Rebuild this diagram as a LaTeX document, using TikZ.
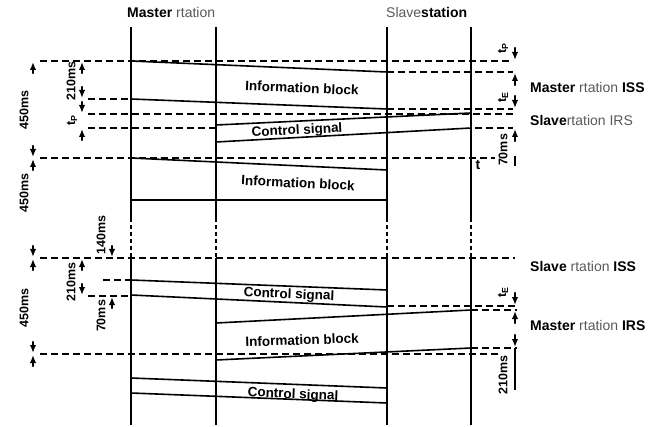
\documentclass[tikz,border=0pt]{standalone}
\usepackage{fontspec}
\setmainfont{Liberation Sans}
\usetikzlibrary{arrows.meta}
\begin{document}
\begin{tikzpicture}[x=1pt,y=-1pt,
  station/.style={line width=1.5pt},
  stdash/.style={line width=1.2pt,dash pattern=on 4pt off 3pt},
  blockedge/.style={line width=1.6pt,line join=miter},
  hdash/.style={line width=1.4pt,dash pattern=on 7pt off 4pt},
  dimarr/.style={line width=2.2pt,line cap=round,-{Latex[length=8pt,width=6.5pt]}},
  dimtxt/.style={font=\bfseries\fontsize{12.5}{13}\selectfont,rotate=90,inner sep=0pt},
  blk/.style={font=\bfseries\fontsize{13.5}{15}\selectfont,inner sep=0pt},
  hdr/.style={font=\fontsize{14}{16}\selectfont,inner sep=0pt,anchor=west}
]
\useasboundingbox (0,0) rectangle (660,427);

% station lines
\foreach \xx/\nm in {131/ma,216/mb,387/sa,471/sb}{
  \coordinate (\nm top) at (\xx,27);
  \coordinate (\nm s1) at (\xx,218);
  \coordinate (\nm s2) at (\xx,258);
  \coordinate (\nm bot) at (\xx,425);
  \draw[station] (\nm top) -- (\nm s1);
  \draw[stdash] (\nm s1) -- (\nm s2);
  \draw[station] (\nm s2) -- (\nm bot);
}

% headers
\node[hdr] (h1) at (127,13) {\textbf{Master} {\color{black!65}rtation}};
\node[hdr] (h2) at (386,13) {{\color{black!65}Slave}\textbf{station}};

% right labels
\node[hdr] (r1) at (530,87) {\textbf{Master} {\color{black!65}rtation} \textbf{ISS}};
\node[hdr] (r2) at (530,120) {\textbf{Slave}{\color{black!65}rtation IRS}};
\node[hdr] (r3) at (530,266) {\textbf{Slave} {\color{black!65}rtation} \textbf{ISS}};
\node[hdr] (r4) at (530,325) {\textbf{Master} {\color{black!65}rtation} \textbf{IRS}};

% horizontal dashed lines
\draw[hdash] (40,61) -- (513,61);
\draw[hdash] (387,72) -- (513,72);
\draw[hdash] (88,99) -- (131,99);
\draw[hdash] (387,109) -- (513,109);
\draw[hdash] (88,114) -- (513,114);
\draw[hdash] (88,128) -- (216,128);
\draw[hdash] (475,128) -- (513,128);
\draw[hdash] (40,158) -- (495,158);
\draw[hdash] (40,258) -- (515,258);
\draw[hdash] (103,280) -- (131,280);
\draw[hdash] (88,296) -- (131,296);
\draw[hdash] (387,306) -- (517,306);
\draw[hdash] (471,310) -- (517,310);
\draw[hdash] (471,348) -- (517,348);
\draw[hdash] (40,354) -- (500,354);

% blocks
\draw[blockedge] (131,61) -- (387,72) -- (387,109) -- (131,99);
\draw[blockedge] (216,125) -- (471,113) -- (471,128) -- (216,142) -- cycle;
\draw[blockedge] (131,158) -- (387,170) -- (387,200) -- (131,200);
\draw[blockedge] (131,280) -- (387,290) -- (387,307) -- (131,295);
\draw[blockedge] (216,323) -- (471,310) -- (471,348) -- (216,360) -- cycle;
\draw[blockedge] (131,378) -- (387,388) -- (387,403) -- (131,393);

\node[blk,rotate=-2.5] (b1) at (302,88) {Information block};
\node[blk,rotate=3] (b2) at (297,131) {Control signal};
\node[blk,rotate=-3] (b3) at (298,183) {Information block};
\node[blk,rotate=-2.5] (b4) at (289,295) {Control signal};
\node[blk,rotate=2] (b5) at (302,340) {Information block};
\node[blk,rotate=-2.5] (b6) at (293,395) {Control signal};

\node[font=\bfseries\fontsize{14}{14}\selectfont,inner sep=0pt] (tm) at (478,165) {t};

% left dimension arrows
\draw[dimarr] (33,73) -- (33,62);
\draw[dimarr] (33,146) -- (33,157);
\draw[dimarr] (33,170) -- (33,159);
\draw[dimarr] (33,246) -- (33,257);
\draw[dimarr] (33,270) -- (33,259);
\draw[dimarr] (33,342) -- (33,353);
\draw[dimarr] (33,366) -- (33,355);
\draw[dimarr] (82,73) -- (82,62);
\draw[dimarr] (82,87) -- (82,98);
\draw[dimarr] (82,102) -- (82,113);
\draw[dimarr] (82,140) -- (82,129);
\draw[dimarr] (82,270) -- (82,259);
\draw[dimarr] (82,284) -- (82,295);
\draw[dimarr] (112,246) -- (112,257);
\draw[dimarr] (112,308) -- (112,297);

% right dimension arrows
\draw[dimarr] (515,48) -- (515,60);
\draw[dimarr] (515,85) -- (515,73);
\draw[dimarr] (515,96) -- (515,108);
\draw[dimarr] (515,141) -- (515,129);
\draw[line width=1.3pt] (515,156) -- (515,166);
\draw[dimarr] (515,293) -- (515,305);
\draw[dimarr] (515,323) -- (515,311);
\draw[dimarr] (515,335) -- (515,347);
\draw[line width=1.3pt] (515,348) -- (515,390);

% dimension texts
\node[dimtxt] (d1) at (24,110) {450ms};
\node[dimtxt] (d2) at (71,81) {210ms};
\node[dimtxt] (d3) at (72,120) {t\textsubscript{P}};
\node[dimtxt] (d4) at (24,193) {450ms};
\node[dimtxt] (d5) at (101,235) {140ms};
\node[dimtxt] (d6) at (71,282) {210ms};
\node[dimtxt] (d7) at (24,308) {450ms};
\node[dimtxt] (d8) at (101,316) {70ms};
\node[dimtxt] (d9) at (503,48) {t\textsubscript{P}};
\node[dimtxt] (d10) at (503,97) {t\textsubscript{E}};
\node[dimtxt] (d11) at (503,150) {70ms};
\node[dimtxt] (d12) at (503,292) {t\textsubscript{E}};
\node[dimtxt] (d13) at (503,375) {210ms};
\end{tikzpicture}
\end{document}
